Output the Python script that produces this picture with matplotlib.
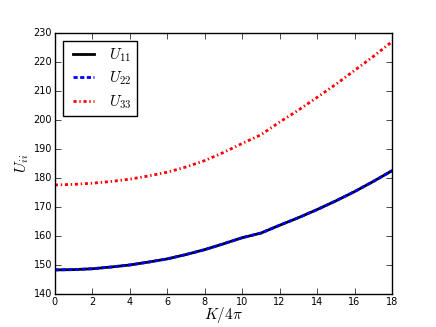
import matplotlib
matplotlib.use('Agg')
import matplotlib.pyplot as plt
import numpy as np

# K/4pi values and the three diagonal components
k_vals = [0, 1, 2, 3, 4, 5, 6, 7, 8, 9, 10, 11, 12, 13, 14, 15, 16, 17, 18]
u11 = [148.3, 148.4, 148.7, 149.3, 150.0, 151.0, 152.1, 153.6, 155.3, 157.3,
       159.4, 161.0, 163.7, 166.3, 169.1, 172.1, 175.3, 178.8, 182.5]
u22 = [148.3, 148.4, 148.7, 149.3, 150.0, 151.0, 152.1, 153.6, 155.3, 157.3,
       159.4, 161.0, 163.7, 166.3, 169.1, 172.1, 175.3, 178.8, 182.5]
u33 = [177.6, 177.8, 178.2, 178.8, 179.6, 180.7, 182.0, 183.8, 186.0, 188.8,
       191.9, 194.9, 199.3, 203.4, 207.8, 212.3, 217.1, 221.9, 227.0]

plt.style.use('classic')
plt.rcParams['mathtext.fontset'] = 'cm'

fig = plt.figure(figsize=(4.36, 3.27), dpi=100, facecolor='white')
ax = fig.add_axes([0.126, 0.101, 0.773, 0.798])

ax.plot(k_vals, u11, color='black', linestyle='-', linewidth=2, label=r'$U_{11}$')
ax.plot(k_vals, u22, color='blue', linestyle=(0, (3, 1.8)), linewidth=2,
        label=r'$U_{22}$')
ax.plot(k_vals, u33, color='red', linestyle=(0, (2.2, 2, 1, 2)), linewidth=2,
        label=r'$U_{33}$')

ax.set_xlim(0, 18)
ax.set_ylim(140, 230)
ax.set_xticks(np.arange(0, 19, 2))
ax.set_yticks(np.arange(140, 231, 10))
ax.tick_params(labelsize=7, length=4, pad=2)

ax.set_xlabel(r'$K/4\pi$', fontsize=11, labelpad=-1)
ax.set_ylabel(r'$U_{ii}$', fontsize=11, labelpad=2)

leg = ax.legend(loc='upper left', fontsize=11, handlelength=2.0,
                labelspacing=0.4, borderpad=0.35, handletextpad=0.7)
leg.get_frame().set_linewidth(1)

fig.savefig('out.png', dpi=100, facecolor='white')
